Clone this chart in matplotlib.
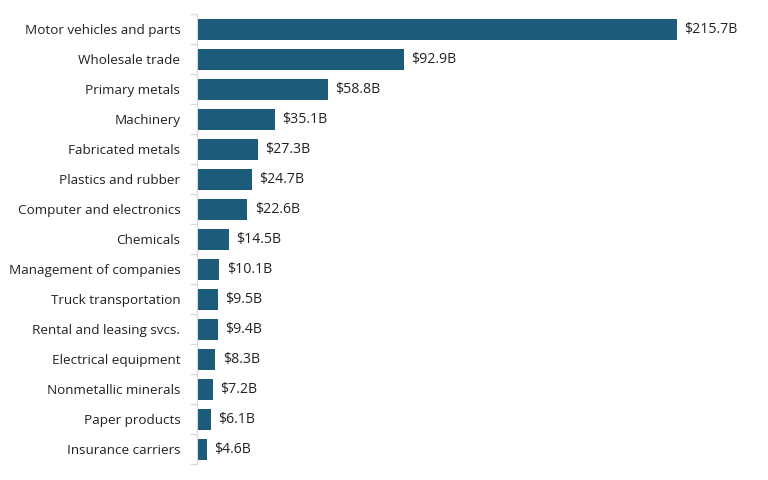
import numpy as np
import matplotlib.pyplot as plt

categories = ['Motor vehicles and parts', 'Wholesale trade', 'Primary metals', 'Machinery',
              'Fabricated metals', 'Plastics and rubber', 'Computer and electronics', 'Chemicals',
              'Management of companies', 'Truck transportation', 'Rental and leasing svcs.',
              'Electrical equipment', 'Nonmetallic minerals', 'Paper products', 'Insurance carriers']
values = [215.7, 92.9, 58.8, 35.1, 27.3, 24.7, 22.6, 14.5, 10.1, 9.5, 9.4, 8.3, 7.2, 6.1, 4.6]

plt.rcParams['font.family'] = ['Open Sans', 'DejaVu Sans']

fig = plt.figure(figsize=(7.68, 4.8), dpi=100)
ax = fig.add_axes([197 / 768, 1 - 464 / 480, 0.98 - 197 / 768, 450 / 480])

y = np.arange(len(categories))
ax.barh(y, values, height=0.7, color='#1d5b7b')
for yi, v in zip(y, values):
    ax.text(v + 3.3, yi, f'${v:.1f}B', va='center', ha='left', fontsize=10.2, color='#222222')

ax.set_ylim(len(categories) - 0.5, -0.5)
ax.set_xlim(0, 249.7)
ax.set_yticks(y)
ax.set_yticklabels(categories, fontsize=9.7, color='#222222')
ax.set_yticks(np.arange(len(categories) + 1) - 0.5, minor=True)
ax.tick_params(axis='y', which='major', length=0, pad=12)
ax.tick_params(axis='y', which='minor', length=5, color='#d9d9d9', width=1)
ax.set_xticks([])
for s in ['top', 'right', 'bottom']:
    ax.spines[s].set_visible(False)
ax.spines['left'].set_color('#d9d9d9')

fig.savefig('out.png', dpi=100)
